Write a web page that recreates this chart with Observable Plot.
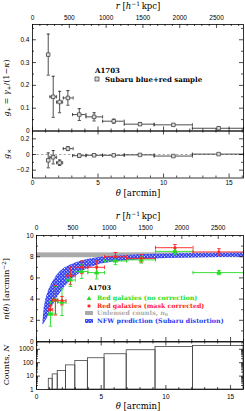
<!DOCTYPE html>
<html><head><meta charset="utf-8">
<script src="https://cdn.jsdelivr.net/npm/d3@7"></script>
<script src="https://cdn.jsdelivr.net/npm/@observablehq/plot@0.6"></script>
<style>
body{margin:0;background:#fff}
#c{position:relative;width:245px;height:411px;overflow:hidden;font-family:"DejaVu Serif",serif;background:#fff}
.lab{position:absolute;white-space:nowrap;line-height:1;color:#000}
.lab .sb{font-size:70%;position:relative;top:0.3em}
.lab .sp{font-size:70%;position:relative;top:-0.45em}
svg text{font-family:"Liberation Sans",sans-serif}
</style></head><body><div id="c"></div>
<script>
// ---------- data ----------
const K = 178;
const thetaMax = 16;
const rTicks = [0, 500, 1000, 1500, 2000, 2500];
const thetaTicks = [0, 5, 10, 15];

// shear profile (Subaru blue+red sample)
const gTheta = [1.2, 1.58, 2.07, 2.7, 3.57, 4.7, 6.2, 8.2, 10.75, 14.2];
const gLo    = [1.12, 1.33, 1.84, 2.35, 3.06, 4.08, 5.35, 7.0, 9.28, 12.2];
const gHi    = [1.28, 1.84, 2.3, 3.1, 4.08, 5.35, 7.0, 9.28, 12.2, 16.1];
const gPlus    = [0.335, 0.15, 0.127, 0.145, 0.072, 0.062, 0.043, 0.03, 0.027, 0.012];
const gPlusErr = [0.09, 0.09, 0.047, 0.032, 0.026, 0.018, 0.009, 0.006, 0.005, 0.005];
const gCross    = [-0.075, -0.035, -0.105, 0.075, -0.015, -0.01, -0.01, -0.005, -0.02, 0.005];
const gCrossErr = [0.095, 0.085, 0.035, 0.025, 0.02, 0.015, 0.01, 0.008, 0.007, 0.006];

// red galaxy counts
const nTheta = [1.08, 1.46, 1.97, 2.62, 3.5, 4.65, 6.1, 8.1, 10.7, 14.1];
const binLo  = [0.95, 1.25, 1.64, 2.28, 3.0, 3.97, 5.26, 6.97, 9.2, 12.1];
const binHi  = [1.25, 1.64, 2.28, 3.0, 3.97, 5.26, 6.97, 9.2, 12.1, 16];
const nGreen    = [2.6, 3.9, 3.7, 5.8, 6.6, 6.5, 7.6, 7.7, 8.5, 6.5];
const nGreenErr = [1.15, 1.3, 1.25, 0.6, 0.65, 0.6, 0.35, 0.3, 0.3, 0.2];
const nRed    = [3.0, 3.9, 3.85, 6.2, 7.0, 7.0, 8.0, 7.85, 8.85, 8.45];
const nRedErr = [0.45, 1.4, 0.4, 0.8, 0.6, 0.6, 0.4, 0.35, 0.3, 0.3];
const counts  = [6.3, 13.4, 24, 63, 134, 215, 427, 850, 1500, 1750];
const n0 = 8.13, n0Err = 0.23;

// NFW prediction band
const nfwTheta = [0.5, 0.6, 0.7, 0.85, 1.0, 1.2, 1.5, 1.8, 2.2, 2.6, 3.0, 3.5, 4.0, 5.0, 6.0, 7.0, 8.0, 10, 12, 14, 16];
const nfwHigh  = [1.9, 3.2, 3.9, 4.5, 5.0, 5.5, 6.1, 6.55, 6.95, 7.2, 7.4, 7.6, 7.75, 7.95, 8.05, 8.12, 8.18, 8.25, 8.3, 8.33, 8.35];
const nfwLow   = [1.5, 1.7, 1.9, 2.2, 2.65, 3.2, 3.9, 4.5, 5.15, 5.65, 6.1, 6.55, 6.9, 7.3, 7.5, 7.62, 7.72, 7.82, 7.88, 7.92, 7.95];

// ---------- helpers ----------
const GREEN = "#22dd22", RED = "#ff2222", BLUE = "#2b3bf2";
const root = document.getElementById("c");
const capH = {draw(c, s) { const r = Math.sqrt(s / Math.PI); c.moveTo(-r, 0); c.lineTo(r, 0); }};
const capV = {draw(c, s) { const r = Math.sqrt(s / Math.PI); c.moveTo(0, -r); c.lineTo(0, r); }};
const range = (a, b, s) => d3.range(a, b + 1e-9, s).map(v => +v.toFixed(6));
const thMin = range(1, 16, 1).filter(v => v % 5);
const rMaj = rTicks.map(r => r / K);
const rMin = range(100, 2800, 100).filter(v => v % 500).map(r => r / K);

function boxTicks({W, H, xMaj = [], xMin = [], xTopMaj, xTopMin, yMaj = [], yMin = []}) {
  const s = {stroke: "black", strokeWidth: 0.7};
  const L = 4, l = 2;
  return [
    Plot.ruleX(xTopMaj ?? xMaj, {...s, insetBottom: H - L}),
    Plot.ruleX(xTopMin ?? xMin, {...s, insetBottom: H - l}),
    Plot.ruleX(xMaj, {...s, insetTop: H - L}),
    Plot.ruleX(xMin, {...s, insetTop: H - l}),
    Plot.ruleY(yMaj, {...s, insetRight: W - L}),
    Plot.ruleY(yMin, {...s, insetRight: W - l}),
    Plot.ruleY(yMaj, {...s, insetLeft: W - L}),
    Plot.ruleY(yMin, {...s, insetLeft: W - l})
  ];
}
function errMarks(I, xs, ys, yerr, xlo, xhi, color, sw = 0.8, cap = 1.8) {
  const o = {stroke: color, strokeWidth: sw};
  return [
    Plot.ruleX(I, {...o, x: i => xs[i], y1: i => ys[i] - yerr[i], y2: i => ys[i] + yerr[i]}),
    Plot.ruleY(I, {...o, y: i => ys[i], x1: i => xlo[i], x2: i => xhi[i]}),
    Plot.dot(I, {...o, x: i => xs[i], y: i => ys[i] - yerr[i], symbol: capH, r: cap}),
    Plot.dot(I, {...o, x: i => xs[i], y: i => ys[i] + yerr[i], symbol: capH, r: cap}),
    Plot.dot(I, {...o, x: i => xlo[i], y: i => ys[i], symbol: capV, r: cap}),
    Plot.dot(I, {...o, x: i => xhi[i], y: i => ys[i], symbol: capV, r: cap})
  ];
}
function place(svg, top) {
  svg.style.position = "absolute"; svg.style.left = "0px"; svg.style.top = top + "px";
  root.appendChild(svg);
}
function label(html, x, y, o = {}) {
  const d = document.createElement("div");
  d.className = "lab"; d.innerHTML = html;
  d.style.left = x + "px"; d.style.top = y + "px";
  d.style.fontSize = (o.size || 8.5) + "px";
  if (o.weight) d.style.fontWeight = o.weight;
  if (o.color) d.style.color = o.color;
  d.style.transform = (o.left ? "translate(0,-50%)" : "translate(-50%,-50%)") + (o.rotate ? " rotate(-90deg)" : "");
  root.appendChild(d);
  return d;
}
const style = {fontSize: "6.5px", fontFamily: "Liberation Sans, sans-serif", background: "transparent", overflow: "visible"};
const fmt1 = d => d === 0 ? "0" : (d < 0 ? "\u2212" : "") + Math.abs(d).toFixed(1);
const idx = d3.range(gTheta.length);
const nIdx = d3.range(nTheta.length);

// ---------- panel A: g+ ----------
{
  const W = 245, mL = 32, mR = 2, mT = 24, mB = 0.5, Hs = 131;
  const fw = W - mL - mR, fh = Hs - mT - mB;
  const svg = Plot.plot({
    width: W, height: Hs, marginTop: mT, marginBottom: mB, marginLeft: mL, marginRight: mR,
    x: {domain: [0, 16.1]}, y: {domain: [0, 0.467]}, style,
    marks: [
      ...errMarks(idx, gTheta, gPlus, gPlusErr, gLo, gHi, "#222", 0.8, 1.6),
      Plot.dot(idx, {x: i => gTheta[i], y: i => gPlus[i], symbol: "square", r: 2, stroke: "#333", fill: "#ddd", strokeWidth: 0.7}),
      Plot.frame({stroke: "black", strokeWidth: 0.8}),
      ...boxTicks({W: fw, H: fh, xMaj: thetaTicks, xMin: thMin, xTopMaj: rMaj, xTopMin: rMin,
        yMaj: [0.1, 0.2, 0.3, 0.4], yMin: [0.05, 0.15, 0.25, 0.35, 0.45]}),
      Plot.axisX({anchor: "top", ticks: rMaj, tickSize: 0, tickPadding: 5, label: null,
        tickFormat: d => String(Math.round(d * K / 100) * 100)}),
      Plot.axisY({anchor: "left", ticks: [0, 0.1, 0.2, 0.3, 0.4], tickSize: 0, tickPadding: 3, label: null, tickFormat: fmt1})
    ]
  });
  place(svg, 0);
}
// ---------- panel B: g× ----------
{
  const W = 245, mL = 32, mR = 2, mT = 0.5, mB = 10.5, Hs = 58;
  const fw = W - mL - mR, fh = Hs - mT - mB;
  const svg = Plot.plot({
    width: W, height: Hs, marginTop: mT, marginBottom: mB, marginLeft: mL, marginRight: mR,
    x: {domain: [0, 16.1]}, y: {domain: [-0.3, 0.3]}, style,
    marks: [
      Plot.ruleY([0], {stroke: "#888", strokeDasharray: "2.5,2", strokeWidth: 0.7}),
      ...errMarks(idx, gTheta, gCross, gCrossErr, gLo, gHi, "#222", 0.8, 1.6),
      Plot.dot(idx, {x: i => gTheta[i], y: i => gCross[i], symbol: "square", r: 2, stroke: "#333", fill: "#ddd", strokeWidth: 0.7}),
      Plot.frame({stroke: "black", strokeWidth: 0.8}),
      ...boxTicks({W: fw, H: fh, xMaj: thetaTicks, xMin: thMin, yMaj: [-0.2, 0, 0.2], yMin: [-0.1, 0.1]}),
      Plot.axisX({anchor: "bottom", ticks: thetaTicks, tickSize: 0, tickPadding: 2.5, label: null, tickFormat: d => String(d)}),
      Plot.axisY({anchor: "left", ticks: [-0.2, 0, 0.2], tickSize: 0, tickPadding: 3, label: null, tickFormat: fmt1})
    ]
  });
  place(svg, 130);
}
// ---------- panel C: n(theta) ----------
{
  const W = 245, mL = 36, mR = 2, mT = 35, mB = 0.5, Hs = 141.5;
  const fw = W - mL - mR, fh = Hs - mT - mB;
  const svg = Plot.plot({
    width: W, height: Hs, marginTop: mT, marginBottom: mB, marginLeft: mL, marginRight: mR,
    x: {domain: [0, thetaMax]}, y: {domain: [0, 10]}, style,
    marks: [
      Plot.rect([n0], {x1: 0, x2: thetaMax, y1: d => d - n0Err, y2: d => d + n0Err, fill: "#aaaaaa"}),
      Plot.areaY(d3.range(nfwTheta.length), {x: i => nfwTheta[i], y1: i => nfwLow[i], y2: i => nfwHigh[i], fill: "url(#hatch)"}),
      ...errMarks(nIdx, nTheta, nGreen, nGreenErr, binLo, binHi, GREEN, 0.9, 1.8),
      ...errMarks(nIdx, nTheta, nRed, nRedErr, binLo, binHi, RED, 0.9, 1.8),
      Plot.dot(nIdx, {x: i => nTheta[i], y: i => nGreen[i], symbol: "triangle", r: 2, fill: GREEN}),
      Plot.dot(nIdx, {x: i => nTheta[i], y: i => nRed[i], symbol: "square", r: 1.4, fill: RED}),
      Plot.frame({stroke: "black", strokeWidth: 0.8}),
      ...boxTicks({W: fw, H: fh, xMaj: thetaTicks, xMin: thMin, xTopMaj: rMaj, xTopMin: rMin,
        yMaj: [2, 4, 6, 8], yMin: [1, 3, 5, 7, 9]}),
      Plot.axisX({anchor: "top", ticks: rMaj, tickSize: 0, tickPadding: 6, label: null,
        tickFormat: d => String(Math.round(d * K / 100) * 100)}),
      Plot.axisY({anchor: "left", ticks: [0, 2, 4, 6, 8, 10], tickSize: 0, tickPadding: 3, label: null, tickFormat: d => String(d)})
    ]
  });
  d3.select(svg).insert("defs", ":first-child").html(
    `<pattern id="hatch" width="2.4" height="2.4" patternUnits="userSpaceOnUse" patternTransform="rotate(45)">
       <rect width="2.4" height="2.4" fill="${BLUE}"/><rect width="1.1" height="1.1" fill="#ffffff"/></pattern>`);
  place(svg, 200);
}
// ---------- panel D: counts ----------
{
  const W = 245, mL = 36, mR = 2, mT = 0.5, mB = 12, Hs = 60;
  const fw = W - mL - mR, fh = Hs - mT - mB;
  const logMin = [];
  for (const p of [1, 10, 100, 1000]) for (let k = 2; k <= 9; k++) if (k * p <= 3500) logMin.push(k * p);
  const svg = Plot.plot({
    width: W, height: Hs, marginTop: mT, marginBottom: mB, marginLeft: mL, marginRight: mR,
    x: {domain: [0, thetaMax]}, y: {type: "log", domain: [1, 3500]}, style,
    marks: [
      Plot.rect(nIdx, {x1: i => binLo[i], x2: i => binHi[i], y1: 1, y2: i => counts[i], fill: "none", stroke: "#444", strokeWidth: 0.8}),
      Plot.frame({stroke: "black", strokeWidth: 0.8}),
      ...boxTicks({W: fw, H: fh, xMaj: thetaTicks, xMin: thMin, yMaj: [10, 100, 1000], yMin: logMin}),
      Plot.axisX({anchor: "bottom", ticks: thetaTicks, tickSize: 0, tickPadding: 5, label: null, tickFormat: d => String(d)}),
      Plot.axisY({anchor: "left", ticks: [1, 10, 100, 1000], tickSize: 0, tickPadding: 3, label: null, tickFormat: d => String(d)})
    ]
  });
  place(svg, 340.5);
}

// ---------- axis titles ----------
const rLab = `<i>r</i> [<i>h</i><span class="sp">\u22121</span>\u2009kpc]`;
label(rLab, 138, 6);
label(`<i>\u03b8</i> [arcmin]`, 138, 193);
label(rLab, 138, 216);
label(`<i>\u03b8</i> [arcmin]`, 138, 406);
label(`<i>g</i><span class="sb">+</span> = <i>\u03b3</i><span class="sb">+</span>/(1\u2212<i>\u03ba</i>)`, 7, 88, {rotate: true, size: 8});
label(`<i>g</i><span class="sb">\u00d7</span>`, 7, 154, {rotate: true, size: 8});
label(`<i>n</i>(<i>\u03b8</i>) [arcmin<span class="sp">\u22122</span>]`, 7, 289, {rotate: true, size: 8});
label(`Counts, <i>N</i>`, 7, 365, {rotate: true, size: 8});

// ---------- legends ----------
function swatch(svgInner, x, y) {
  const d = document.createElement("div");
  d.style.cssText = `position:absolute;left:${x - 4}px;top:${y - 3}px;width:8px;height:6px`;
  d.innerHTML = `<svg width="8" height="6" viewBox="0 0 8 6" style="display:block">${svgInner}</svg>`;
  root.appendChild(d);
}
label("A1703", 95, 70, {left: true, size: 7, weight: "bold"});
swatch(`<rect x="2" y="1" width="4" height="4" fill="#ddd" stroke="#333" stroke-width="0.7"/>`, 97, 79);
label("Subaru blue+red sample", 105, 79, {left: true, size: 7, weight: "bold"});

label("A1703", 88, 288, {left: true, size: 6.5, weight: "bold"});
swatch(`<path d="M4,1 L6.3,5 L1.7,5 Z" fill="${GREEN}"/>`, 89, 298.3);
label("Red galaxies (no correction)", 97, 298.3, {left: true, size: 6.3, weight: "bold", color: GREEN});
swatch(`<rect x="2.6" y="1.6" width="2.8" height="2.8" fill="${RED}"/>`, 89, 305.8);
label("Red galaxies (mask corrected)", 97, 305.8, {left: true, size: 6.3, weight: "bold", color: RED});
swatch(`<rect x="0" y="1" width="8" height="4" fill="#aaaaaa"/>`, 89, 313.3);
label(`Unlensed counts, <i>n</i><span class="sb">0</span>`, 97, 313.1, {left: true, size: 6.3, weight: "bold", color: "#aaaaaa"});
swatch(`<rect x="0" y="1" width="8" height="4" fill="url(#hatch)"/>`, 89, 320.8);
label("NFW prediction (Subaru distortion)", 97, 321, {left: true, size: 6.3, weight: "bold", color: BLUE});
</script></body></html>
